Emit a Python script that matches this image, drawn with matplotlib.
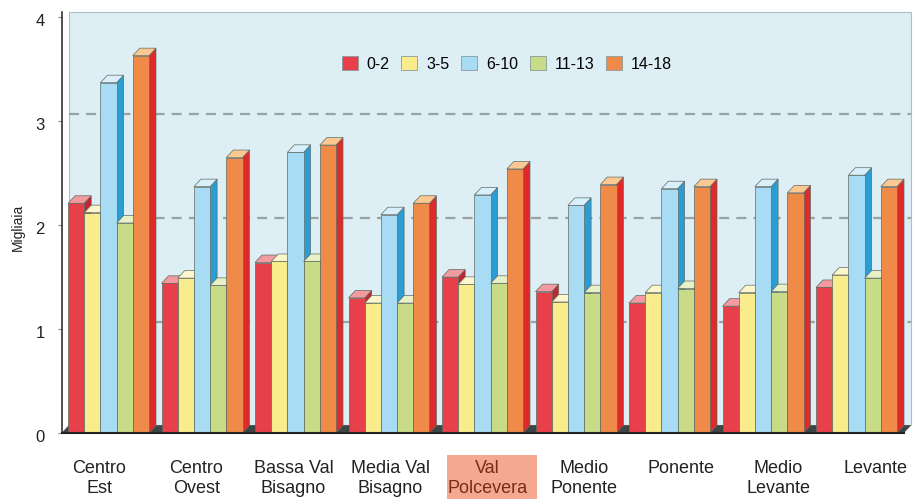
import numpy as np
import matplotlib
matplotlib.use("Agg")
import matplotlib.pyplot as plt
from matplotlib.patches import Polygon, Rectangle, Patch

plt.rcParams['font.family'] = ['Liberation Sans', 'DejaVu Sans']

# data (migliaia)
categories = ["Centro\nEst", "Centro\nOvest", "Bassa Val\nBisagno", "Media Val\nBisagno",
              "Val\nPolcevera", "Medio\nPonente", "Ponente", "Medio\nLevante", "Levante"]
age_groups = ["0-2", "3-5", "6-10", "11-13", "14-18"]
v_0_2 = [2.21, 1.44, 1.64, 1.30, 1.50, 1.36, 1.25, 1.22, 1.40]
v_3_5 = [2.12, 1.49, 1.65, 1.25, 1.43, 1.26, 1.35, 1.35, 1.52]
v_6_10 = [3.37, 2.37, 2.70, 2.10, 2.29, 2.19, 2.35, 2.37, 2.48]
v_11_13 = [2.02, 1.42, 1.65, 1.25, 1.44, 1.35, 1.39, 1.36, 1.49]
v_14_18 = [3.63, 2.65, 2.77, 2.21, 2.54, 2.39, 2.37, 2.31, 2.37]
yticks = [0, 1, 2, 3, 4]

series = [v_0_2, v_3_5, v_6_10, v_11_13, v_14_18]

# front / top / side colours for each series
front = ['#e8404a', '#f8ec8c', '#a8dcf4', '#c8dc88', '#f08a48']
top = ['#f29aa0', '#fcf6cc', '#d8f0fc', '#e8f0c8', '#fac890']
side = ['#c42430', '#e0cc50', '#2a9ed4', '#98b450', '#de2a2a']
edge = '#5f6b63'

fig = plt.figure(figsize=(9.14, 4.99), dpi=100)
ax = fig.add_axes([62/914, 66/499, 841.5/914, 421/499])
ax.set_xlim(-0.5, 8.5)
ax.set_ylim(0, 4.05)

# depth of the fake 3d, in data units
DX = 7 / 93.5
DY = 7.5 / 103.95

# back wall and floor
ax.add_patch(Rectangle((-0.5 + DX, DY), 9, 4.05 - DY, fc='#deeef5', ec='#b0bec2',
                       lw=0.8, zorder=0, clip_on=False))
for v in yticks[1:-1]:
    ax.plot([-0.5 + DX, 8.5 + DX], [v + DY, v + DY], ls=(0, (4.5, 3.2)), color='#9aa2a2',
            lw=1.6, zorder=1, clip_on=False)
ax.add_patch(Polygon([(-0.5, 0), (8.5, 0), (8.5 + DX, DY), (-0.5 + DX, DY)],
                     closed=True, fc='#3d4545', ec='#3d4545', lw=0.5, zorder=1, clip_on=False))

# bars
w = 16.2 / 93.5
off = 6 / 93.5
for i in range(len(categories)):
    for j, vals in enumerate(series):
        v = vals[i]
        x0 = i - 0.5 + off + j * w
        ax.add_patch(Polygon([(x0 + w, 0), (x0 + w + DX, DY), (x0 + w + DX, v + DY), (x0 + w, v)],
                             closed=True, fc=side[j], ec=edge, lw=0.5, zorder=2, clip_on=False))
        ax.add_patch(Polygon([(x0, v), (x0 + w, v), (x0 + w + DX, v + DY), (x0 + DX, v + DY)],
                             closed=True, fc=top[j], ec=edge, lw=0.5, zorder=2, clip_on=False))
        ax.add_patch(Rectangle((x0, 0), w, v, fc=front[j], ec=edge, lw=0.5, zorder=2,
                               clip_on=False))

# axes lines
for s in ['top', 'right']:
    ax.spines[s].set_visible(False)
ax.spines['left'].set_color('#333333')
ax.spines['left'].set_linewidth(1.2)
ax.spines['bottom'].set_color('#222222')
ax.spines['bottom'].set_linewidth(1.5)
ax.spines['bottom'].set_zorder(3)
ax.set_xticks([])
ax.set_yticks(yticks)
ax.set_yticklabels([])
ax.tick_params(axis='y', length=3, width=0.8, colors='#888888')
for t in yticks:
    ax.annotate(str(t), xy=(0, t), xycoords=('axes fraction', 'data'), xytext=(-17, -4),
                textcoords='offset pixels', ha='right', va='center', fontsize=12, color='#222222')

fig.text(18/914, 272/499, 'Migliaia', rotation=90, ha='center', va='center', fontsize=10,
         color='#222222')

# category labels
label_x = np.linspace(-0.1, 8.2, len(categories))
for i, (lx, name) in enumerate(zip(label_x, categories)):
    color = '#222222'
    if name == "Val\nPolcevera":
        color = '#7a2a18'
        fig.add_artist(Rectangle((447/914, 0), 90/914, 44/499, fc='#f4a890', ec='none',
                                 transform=fig.transFigure, zorder=0))
    ax.annotate(name, xy=(lx, 0), xycoords='data', xytext=(0, -27), textcoords='offset pixels',
                ha='center', va='top', fontsize=13, linespacing=1.25, color=color,
                annotation_clip=False)

handles = [Patch(facecolor=front[j], edgecolor='#8a9a9a', lw=0.6) for j in range(len(age_groups))]
fig.legend(handles, age_groups, loc='center', bbox_to_anchor=(507/914, 1 - 64/499), ncol=5,
           frameon=False, fontsize=11.5, handlelength=1.0, handleheight=1.0, handletextpad=0.55,
           columnspacing=0.75)

fig.savefig('out.png', dpi=100)
